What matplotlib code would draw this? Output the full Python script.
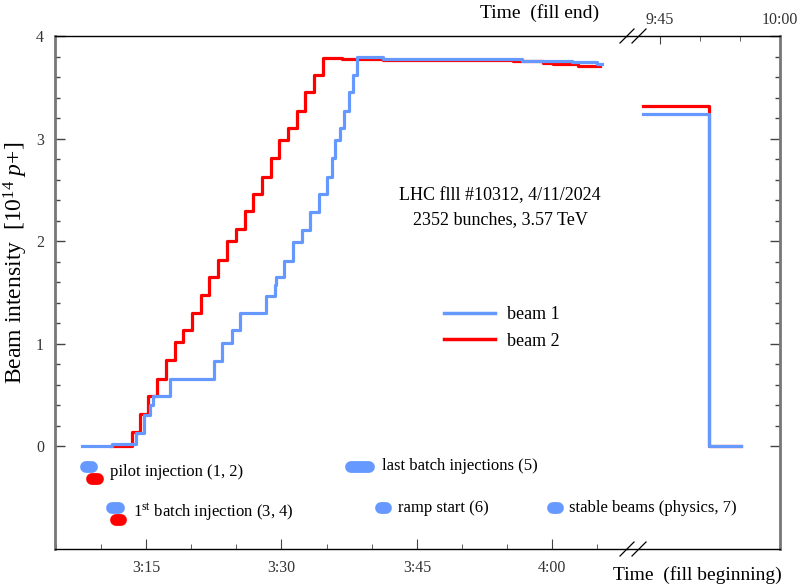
import matplotlib.pyplot as plt
from matplotlib.lines import Line2D
from matplotlib.ticker import MultipleLocator, FixedLocator

plt.rcParams['font.family'] = ['Liberation Serif', 'DejaVu Serif']
plt.rcParams['mathtext.fontset'] = 'custom'
plt.rcParams['mathtext.rm'] = 'Liberation Serif'
plt.rcParams['mathtext.it'] = 'Liberation Serif:italic'

BLUE = '#6699ff'
RED = '#ff0000'

# fill beginning, minutes after 3:00
b1_t = [7.91, 11.23, 13.89, 14.78, 15.44, 15.74, 17.66, 22.48, 23.38, 24.49, 25.41,
        28.29, 29.25, 29.40, 30.28, 31.25, 32.24, 33.16, 34.13, 35.08, 35.57, 35.96,
        36.48, 36.96, 37.48, 37.96, 38.40, 41.25, 56.64, 62.18, 65.0, 65.5]
b1_i = [0.0, 0.02, 0.13, 0.31, 0.40, 0.49, 0.66, 0.83, 1.01, 1.13, 1.30,
        1.47, 1.57, 1.65, 1.81, 1.99, 2.11, 2.28, 2.46, 2.63, 2.81, 2.99,
        3.10, 3.27, 3.45, 3.62, 3.80, 3.78, 3.76, 3.75, 3.73, 3.73]

b2_t = [11.1, 13.42, 14.34, 15.22, 16.22, 17.21, 18.21, 19.13, 20.13, 21.06, 22.01,
        23.01, 24.00, 24.97, 25.93, 26.88, 27.81, 28.81, 29.76, 30.73, 31.69, 32.64,
        33.60, 34.57, 36.67, 41.28, 55.64, 58.96, 60.07, 62.84, 65.28]
b2_i = [0.0, 0.14, 0.32, 0.49, 0.66, 0.84, 1.02, 1.13, 1.30, 1.48, 1.65,
        1.82, 2.00, 2.12, 2.29, 2.46, 2.63, 2.81, 2.99, 3.10, 3.27, 3.45,
        3.62, 3.79, 3.78, 3.77, 3.76, 3.74, 3.73, 3.71, 3.71]

# fill end, minutes after 9:00
e1_t = [42.90, 51.09, 55.09]
e1_i = [3.24, 0.0, 0.0]
e2_t = [42.90, 51.09, 55.09]
e2_i = [3.32, 0.0, 0.0]

bottom_ticks = [15, 30, 45, 60]
bottom_labels = ['3:15', '3:30', '3:45', '4:00']
top_ticks = [45, 60]
top_labels = ['9:45', '10:00']

W, H = 801, 587
fig = plt.figure(figsize=(W / 100, H / 100), dpi=100)
L, R, T, B, BRK = 55, 780, 36, 549, 627
ax = fig.add_axes([L / W, 1 - B / H, (BRK - L) / W, (B - T) / H])
ax2 = fig.add_axes([BRK / W, 1 - B / H, (R - BRK) / W, (B - T) / H], sharey=ax)
ax2.patch.set_visible(False)

ax.step(b2_t, b2_i, where='post', color=RED, lw=2.3, label='beam 2')
ax.step(b1_t, b1_i, where='post', color=BLUE, lw=2.3, label='beam 1')
ax2.step(e2_t, e2_i, where='post', color=RED, lw=2.3)
ax2.step(e1_t, e1_i, where='post', color=BLUE, lw=2.3)

ax.set_xlim(4.92, 68.27)
ax2.set_xlim(40.93, 60)
ax.set_ylim(-1, 4)

for a in (ax, ax2):
    for s in a.spines.values():
        s.set_linewidth(1.0)
ax.spines['right'].set_visible(False)
ax2.spines['left'].set_visible(False)
ax.spines['left'].set_color('#777777')
ax.spines['left'].set_linewidth(2)
ax2.spines['right'].set_color('#777777')
ax2.spines['right'].set_linewidth(2)

ax.yaxis.set_major_locator(FixedLocator([0, 1, 2, 3, 4]))
ax.yaxis.set_minor_locator(FixedLocator([i * 0.2 for i in range(21)]))
ax.tick_params(axis='y', which='both', direction='in', left=True, right=False,
               color='#444444', labelsize=11.5, labelcolor='#333333', pad=8)
ax.tick_params(axis='y', which='major', length=7, width=1)
ax.tick_params(axis='y', which='minor', length=3.5, width=1)

ax.set_xticks(bottom_ticks)
ax.set_xticklabels(bottom_labels)
ax.xaxis.set_minor_locator(MultipleLocator(5))
ax.tick_params(axis='x', which='both', direction='in', bottom=True, top=False,
               color='#444444', labelsize=11.5, labelcolor='#333333', pad=8)
ax.tick_params(axis='x', which='major', length=7)
ax.tick_params(axis='x', which='minor', length=3.5)

ax2.tick_params(axis='y', which='both', direction='in', left=False, right=True,
                labelleft=False, labelright=False, color='#444444')
ax2.tick_params(axis='y', which='major', length=7, width=1)
ax2.tick_params(axis='y', which='minor', length=3.5, width=1)
ax2.xaxis.tick_top()
ax2.set_xticks(top_ticks)
ax2.set_xticklabels(top_labels)
ax2.xaxis.set_minor_locator(FixedLocator([50, 55]))
ax2.tick_params(axis='x', which='both', direction='in', color='#444444',
                labelsize=11.5, labelcolor='#333333', pad=6)
ax2.tick_params(axis='x', which='major', length=6)
ax2.tick_params(axis='x', which='minor', length=3.5)

ax.set_ylabel(r'Beam intensity  [10$^{14}$ $\it{p}$+]', fontsize=17)
ax.yaxis.set_label_coords(-(L - 30) / (BRK - L), (B - 263) / (B - T))

ax.text(54.2, 2.44, 'LHC flll #10312, 4/11/2024', ha='center', va='center', fontsize=13)
ax.text(54.2, 2.21, '2352 bunches, 3.57 TeV', ha='center', va='center', fontsize=13)

h1 = Line2D([], [], color=BLUE, lw=2.5)
h2 = Line2D([], [], color=RED, lw=2.5)
ax.legend([h1, h2], ['beam 1', 'beam 2'], loc='center',
          bbox_to_anchor=(502 / W, 1 - 328 / H), bbox_transform=fig.transFigure,
          frameon=False, fontsize=13, handlelength=2.8, handletextpad=0.7,
          labelspacing=0.5)

# event markers (pills) below zero
pill = dict(lw=8.5, solid_capstyle='round', clip_on=False)
ax.plot([8.36, 9.02], [-0.205, -0.205], color=BLUE, **pill)
ax.plot([9.02, 9.68], [-0.32, -0.32], color=RED, **pill)
ax.plot([11.23, 12.0], [-0.605, -0.605], color=BLUE, **pill)
ax.plot([11.73, 12.28], [-0.72, -0.72], color=RED, **pill)
ax.plot([37.70, 39.70], [-0.205, -0.205], color=BLUE, **pill)
ax.plot([41.02, 41.57], [-0.605, -0.605], color=BLUE, **pill)
ax.plot([60.07, 60.62], [-0.605, -0.605], color=BLUE, **pill)

ev = dict(va='center', fontsize=12, zorder=5)
ax.text(11.0, -0.245, 'pilot injection (1, 2)', **ev)
ax.text(13.55, -0.645, r'1$^{\mathrm{st}}$ batch injection (3, 4)', **ev)
ax.text(41.1, -0.195, 'last batch injections (5)', **ev)
ax.text(42.9, -0.60, 'ramp start (6)', **ev)
ax.text(61.8, -0.60, 'stable beams (physics, 7)', **ev)

fig.text(540 / W, 1 - 13 / H, 'Time  (fill end)', ha='center', va='center', fontsize=14)
fig.text(697 / W, 1 - 575 / H, 'Time  (fill beginning)', ha='center', va='center', fontsize=14)

# axis break marks
for y0 in (T, B):
    for dx in (-7, 5):
        x0 = BRK + dx
        fig.add_artist(Line2D([x0 / W, (x0 + 14) / W],
                              [1 - (y0 + 7) / H, 1 - (y0 - 7) / H],
                              color='black', lw=0.9))

fig.savefig('out.png', dpi=100)
